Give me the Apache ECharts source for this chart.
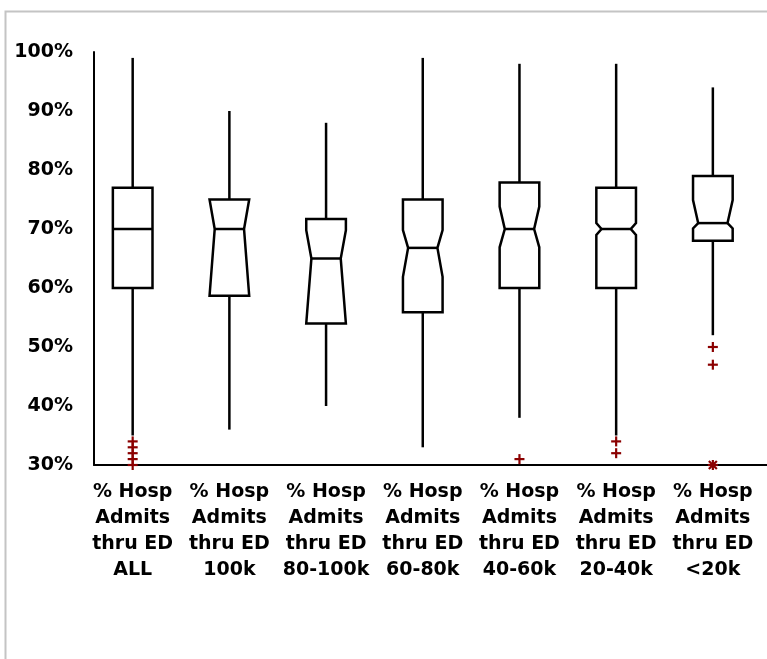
<!DOCTYPE html>
<html>
<head>
<meta charset="utf-8">
<script src="https://cdn.jsdelivr.net/npm/echarts@6/dist/echarts.min.js"></script>
<style>
  html, body { margin: 0; padding: 0; background: #fff; }
  #chart { width: 767px; height: 659px; }
</style>
</head>
<body>
<div id="chart"></div>
<script>
// groups, left to right
var categories = ['ALL', '100k', '80-100k', '60-80k', '40-60k', '20-40k', '<20k'];
var labelPrefix = '% Hosp\nAdmits\nthru ED\n';

// box statistics (percent)
var whiskerLow  = [35, 36, 40, 33, 38, 35, 52];
var q1          = [60, 58.7, 54, 55.9, 60, 60, 68];
var notchLow    = [70, 58.7, 54, 61.9, 66.9, 69, 70.1];
var median      = [70, 70, 65, 66.8, 70, 70, 71];
var notchHigh   = [70, 75, 69.8, 69.8, 73.8, 71, 74.9];
var q3          = [77, 75, 71.7, 75, 77.9, 77, 79];
var whiskerHigh = [99, 90, 88, 99, 98, 98, 94];

// outliers: [group position, value]
var outliers = [
  [1, 34], [1, 33], [1, 32], [1, 31], [1, 30],
  [5, 31],
  [6, 34], [6, 32],
  [7, 50], [7, 47]
];
// several overlapping outliers at one spot
var clusteredOutliers = [[7, 30]];

var yTicks = [30, 40, 50, 60, 70, 80, 90, 100];

var boxData = categories.map(function (c, i) {
  return [i + 1, whiskerLow[i], q1[i], notchLow[i], median[i], notchHigh[i], q3[i], whiskerHigh[i]];
});

var dom = document.getElementById('chart');
var myChart = echarts.init(dom, null, { renderer: 'canvas' });

var lineStyle = { stroke: '#000', lineWidth: 2.5, fill: null };
var redStyle = { stroke: '#8b0000', lineWidth: 2.2 };

function renderBox(params, api) {
  var x = api.value(0);
  var lw = api.value(1), a = api.value(2), nl = api.value(3), md = api.value(4),
      nh = api.value(5), b = api.value(6), hw = api.value(7);
  var cx = api.coord([x, md])[0];
  var y = function (v) { return api.coord([x, v])[1]; };
  var half = api.size([0.205, 0])[0];
  var notched = !(nl === md && nh === md);
  var inner = notched ? half * 0.74 : half;
  var pts = [
    [cx - half, y(b)], [cx - half, y(nh)], [cx - inner, y(md)], [cx - half, y(nl)], [cx - half, y(a)],
    [cx + half, y(a)], [cx + half, y(nl)], [cx + inner, y(md)], [cx + half, y(nh)], [cx + half, y(b)]
  ];
  return {
    type: 'group',
    children: [
      { type: 'line', shape: { x1: cx, y1: y(hw), x2: cx, y2: y(b) }, style: lineStyle },
      { type: 'line', shape: { x1: cx, y1: y(a), x2: cx, y2: y(lw) }, style: lineStyle },
      { type: 'polygon', shape: { points: pts }, style: { stroke: '#000', lineWidth: 2.5, fill: '#fff' } },
      { type: 'line', shape: { x1: cx - inner, y1: y(md), x2: cx + inner, y2: y(md) }, style: lineStyle }
    ]
  };
}

function plusLines(p, s) {
  return [
    { type: 'line', shape: { x1: p[0] - s, y1: p[1], x2: p[0] + s, y2: p[1] }, style: redStyle },
    { type: 'line', shape: { x1: p[0], y1: p[1] - s, x2: p[0], y2: p[1] + s }, style: redStyle }
  ];
}

function renderOutlier(params, api) {
  var p = api.coord([api.value(0), api.value(1)]);
  return { type: 'group', children: plusLines(p, 5) };
}

function renderCluster(params, api) {
  var p = api.coord([api.value(0), api.value(1)]);
  var d = 4;
  var kids = plusLines(p, 5).concat([
    { type: 'line', shape: { x1: p[0] - d, y1: p[1] - d, x2: p[0] + d, y2: p[1] + d }, style: redStyle },
    { type: 'line', shape: { x1: p[0] - d, y1: p[1] + d, x2: p[0] + d, y2: p[1] - d }, style: redStyle }
  ]);
  return { type: 'group', children: kids };
}

var textStyle = {
  fontFamily: 'DejaVu Sans',
  fontWeight: 'bold',
  fontSize: 19,
  color: '#000'
};

var option = {
  animation: false,
  backgroundColor: '#fff',
  graphic: [{
    type: 'rect',
    left: 3, top: 9,
    shape: { width: 800, height: 700 },
    style: { fill: null, stroke: '#c4c4c4', lineWidth: 2 },
    z: -1
  }],
  grid: { left: 94, top: 52, right: 0, bottom: 194 },
  xAxis: {
    type: 'value',
    min: 0.6,
    max: 7.56,
    axisLine: { onZero: false, lineStyle: { color: '#000', width: 2 } },
    axisTick: { show: false },
    splitLine: { show: false },
    axisLabel: Object.assign({
      customValues: categories.map(function (c, i) { return i + 1; }),
      formatter: function (v) { return labelPrefix + categories[Math.round(v) - 1]; },
      lineHeight: 26,
      margin: 14,
      align: 'center'
    }, textStyle)
  },
  yAxis: {
    type: 'value',
    min: 30,
    max: 100,
    interval: 10,
    axisLine: { show: true, onZero: false, lineStyle: { color: '#000', width: 2 } },
    axisTick: { show: false },
    splitLine: { show: false },
    axisLabel: Object.assign({
      customValues: yTicks,
      formatter: '{value}%',
      margin: 21
    }, textStyle)
  },
  series: [
    {
      type: 'custom',
      renderItem: renderBox,
      encode: { x: 0, y: [1, 7] },
      data: boxData,
      z: 3
    },
    {
      type: 'custom',
      renderItem: renderOutlier,
      encode: { x: 0, y: 1 },
      data: outliers,
      z: 4
    },
    {
      type: 'custom',
      renderItem: renderCluster,
      encode: { x: 0, y: 1 },
      data: clusteredOutliers,
      z: 4
    }
  ]
};

myChart.setOption(option);
window.addEventListener('resize', myChart.resize);
</script>
</body>
</html>
